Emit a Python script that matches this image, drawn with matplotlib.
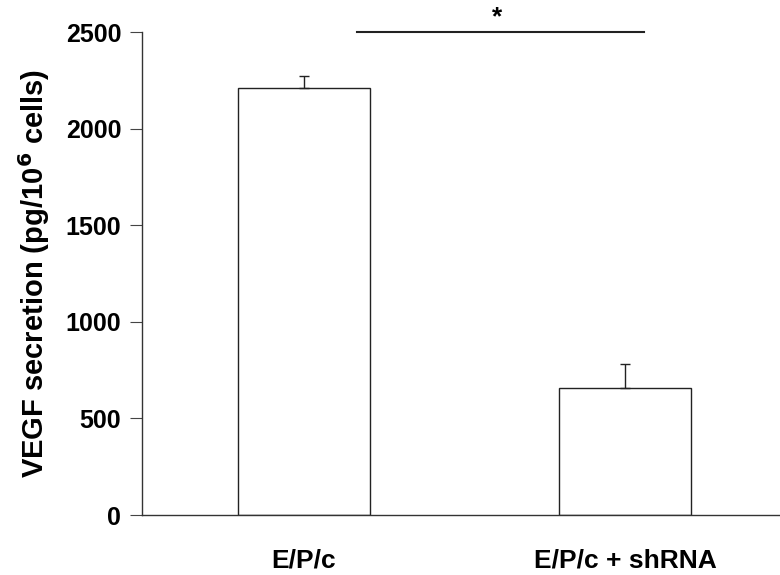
import matplotlib
matplotlib.use('Agg')
import matplotlib.pyplot as plt
import numpy as np

plt.rcParams['font.family'] = ['Liberation Sans', 'DejaVu Sans']
plt.rcParams['font.weight'] = 'bold'

groups = ['E/P/c', 'E/P/c + shRNA']
vegf = [2210, 657]
vegf_err = [60, 124]
yticks = [0, 500, 1000, 1500, 2000, 2500]

fig = plt.figure(figsize=(7.8, 5.75), dpi=100)
ax = fig.add_axes([0.182, 0.1043, 0.818, 0.8400])

x = np.arange(len(groups))
ax.bar(x, vegf, width=0.41, color='white', edgecolor='#222222', linewidth=1.0)
ax.errorbar(x, vegf, yerr=[np.zeros(len(vegf)), vegf_err], fmt='none',
            ecolor='#222222', elinewidth=1.0, capsize=3.5, capthick=1.0)

# significance bar
ax.plot([x[0] + 0.165, x[1] + 0.059], [2500, 2500], color='#222222', lw=1.5,
        clip_on=False)
ax.text((x[0] + x[1]) / 2 + 0.1, 2515, '*', ha='center', va='bottom',
        fontsize=19, fontweight='bold')

ax.set_xlim(-0.505, 1.483)
ax.set_ylim(0, 2500)
ax.set_yticks(yticks)
ax.set_xticks(x)
ax.set_xticklabels(groups, fontsize=19, fontweight='bold')
ax.set_yticklabels([str(t) for t in yticks], fontsize=18, fontweight='bold')
ax.tick_params(axis='x', length=0, pad=24)
ax.tick_params(axis='y', length=9, width=0.8, pad=6, color='#444444')
ax.set_ylabel('VEGF secretion (pg/10$^6$ cells)', fontsize=21,
              fontweight='bold', labelpad=10)

for s in ['top', 'right']:
    ax.spines[s].set_visible(False)
for s in ['left', 'bottom']:
    ax.spines[s].set_linewidth(1.0)
    ax.spines[s].set_color('#333333')

fig.savefig('out.png', dpi=100)
